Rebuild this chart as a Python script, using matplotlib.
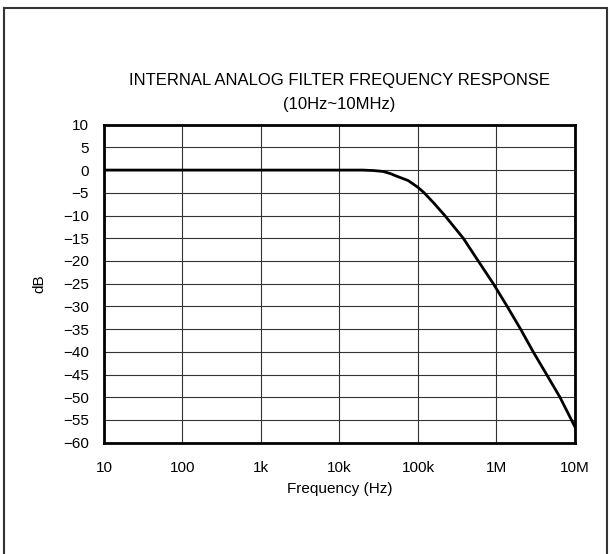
import matplotlib.pyplot as plt
from matplotlib.patches import Rectangle

plt.rcParams['font.family'] = ['Liberation Sans', 'DejaVu Sans']

# frequency response
freq = [10, 100, 1e3, 10e3, 20e3, 27e3, 36e3, 45e3, 51e3, 75e3, 100e3, 120e3,
        160e3, 220e3, 378e3, 586e3, 912e3, 1.37e6, 2.03e6, 2.94e6, 4.36e6,
        6.45e6, 10e6]
db = [0, 0, 0, 0, 0, -0.1, -0.3, -0.8, -1.2, -2.3, -3.8, -5,
      -7.3, -10, -15, -20, -25, -30, -35, -40, -45,
      -50, -56.5]

xticks = [10, 100, 1e3, 1e4, 1e5, 1e6, 1e7]
xlabels = ['10', '100', '1k', '10k', '100k', '1M', '10M']
yticks = list(range(10, -61, -5))

fig = plt.figure(figsize=(6.1, 5.54), dpi=100)
ax = fig.add_axes([0.1705, 0.2009, 0.772, 0.5741])

ax.semilogx(freq, db, color='black', lw=2)
ax.set_xlim(10, 1e7)
ax.set_ylim(-60, 10)
ax.set_xticks(xticks)
ax.set_xticklabels(xlabels)
ax.minorticks_off()
ax.set_yticks(yticks)
ax.tick_params(length=0, labelsize=11)
ax.tick_params(axis='x', pad=13)
ax.tick_params(axis='y', pad=11)
ax.grid(True, color='#333333', lw=0.8)
for s in ax.spines.values():
    s.set_linewidth(2)

ax.set_xlabel('Frequency (Hz)', fontsize=11, labelpad=5)
ax.set_ylabel('dB', fontsize=11, labelpad=12)
ax.set_title('INTERNAL ANALOG FILTER FREQUENCY RESPONSE\n(10Hz~10MHz)',
             fontsize=12, pad=11, linespacing=1.75)

# outer frame
fig.patches.append(Rectangle((4/610, -0.02), 603/610, 1.02 - 8/554,
                             transform=fig.transFigure, fill=False,
                             edgecolor='#333333', lw=1.5))

fig.savefig('out.png', dpi=100)
